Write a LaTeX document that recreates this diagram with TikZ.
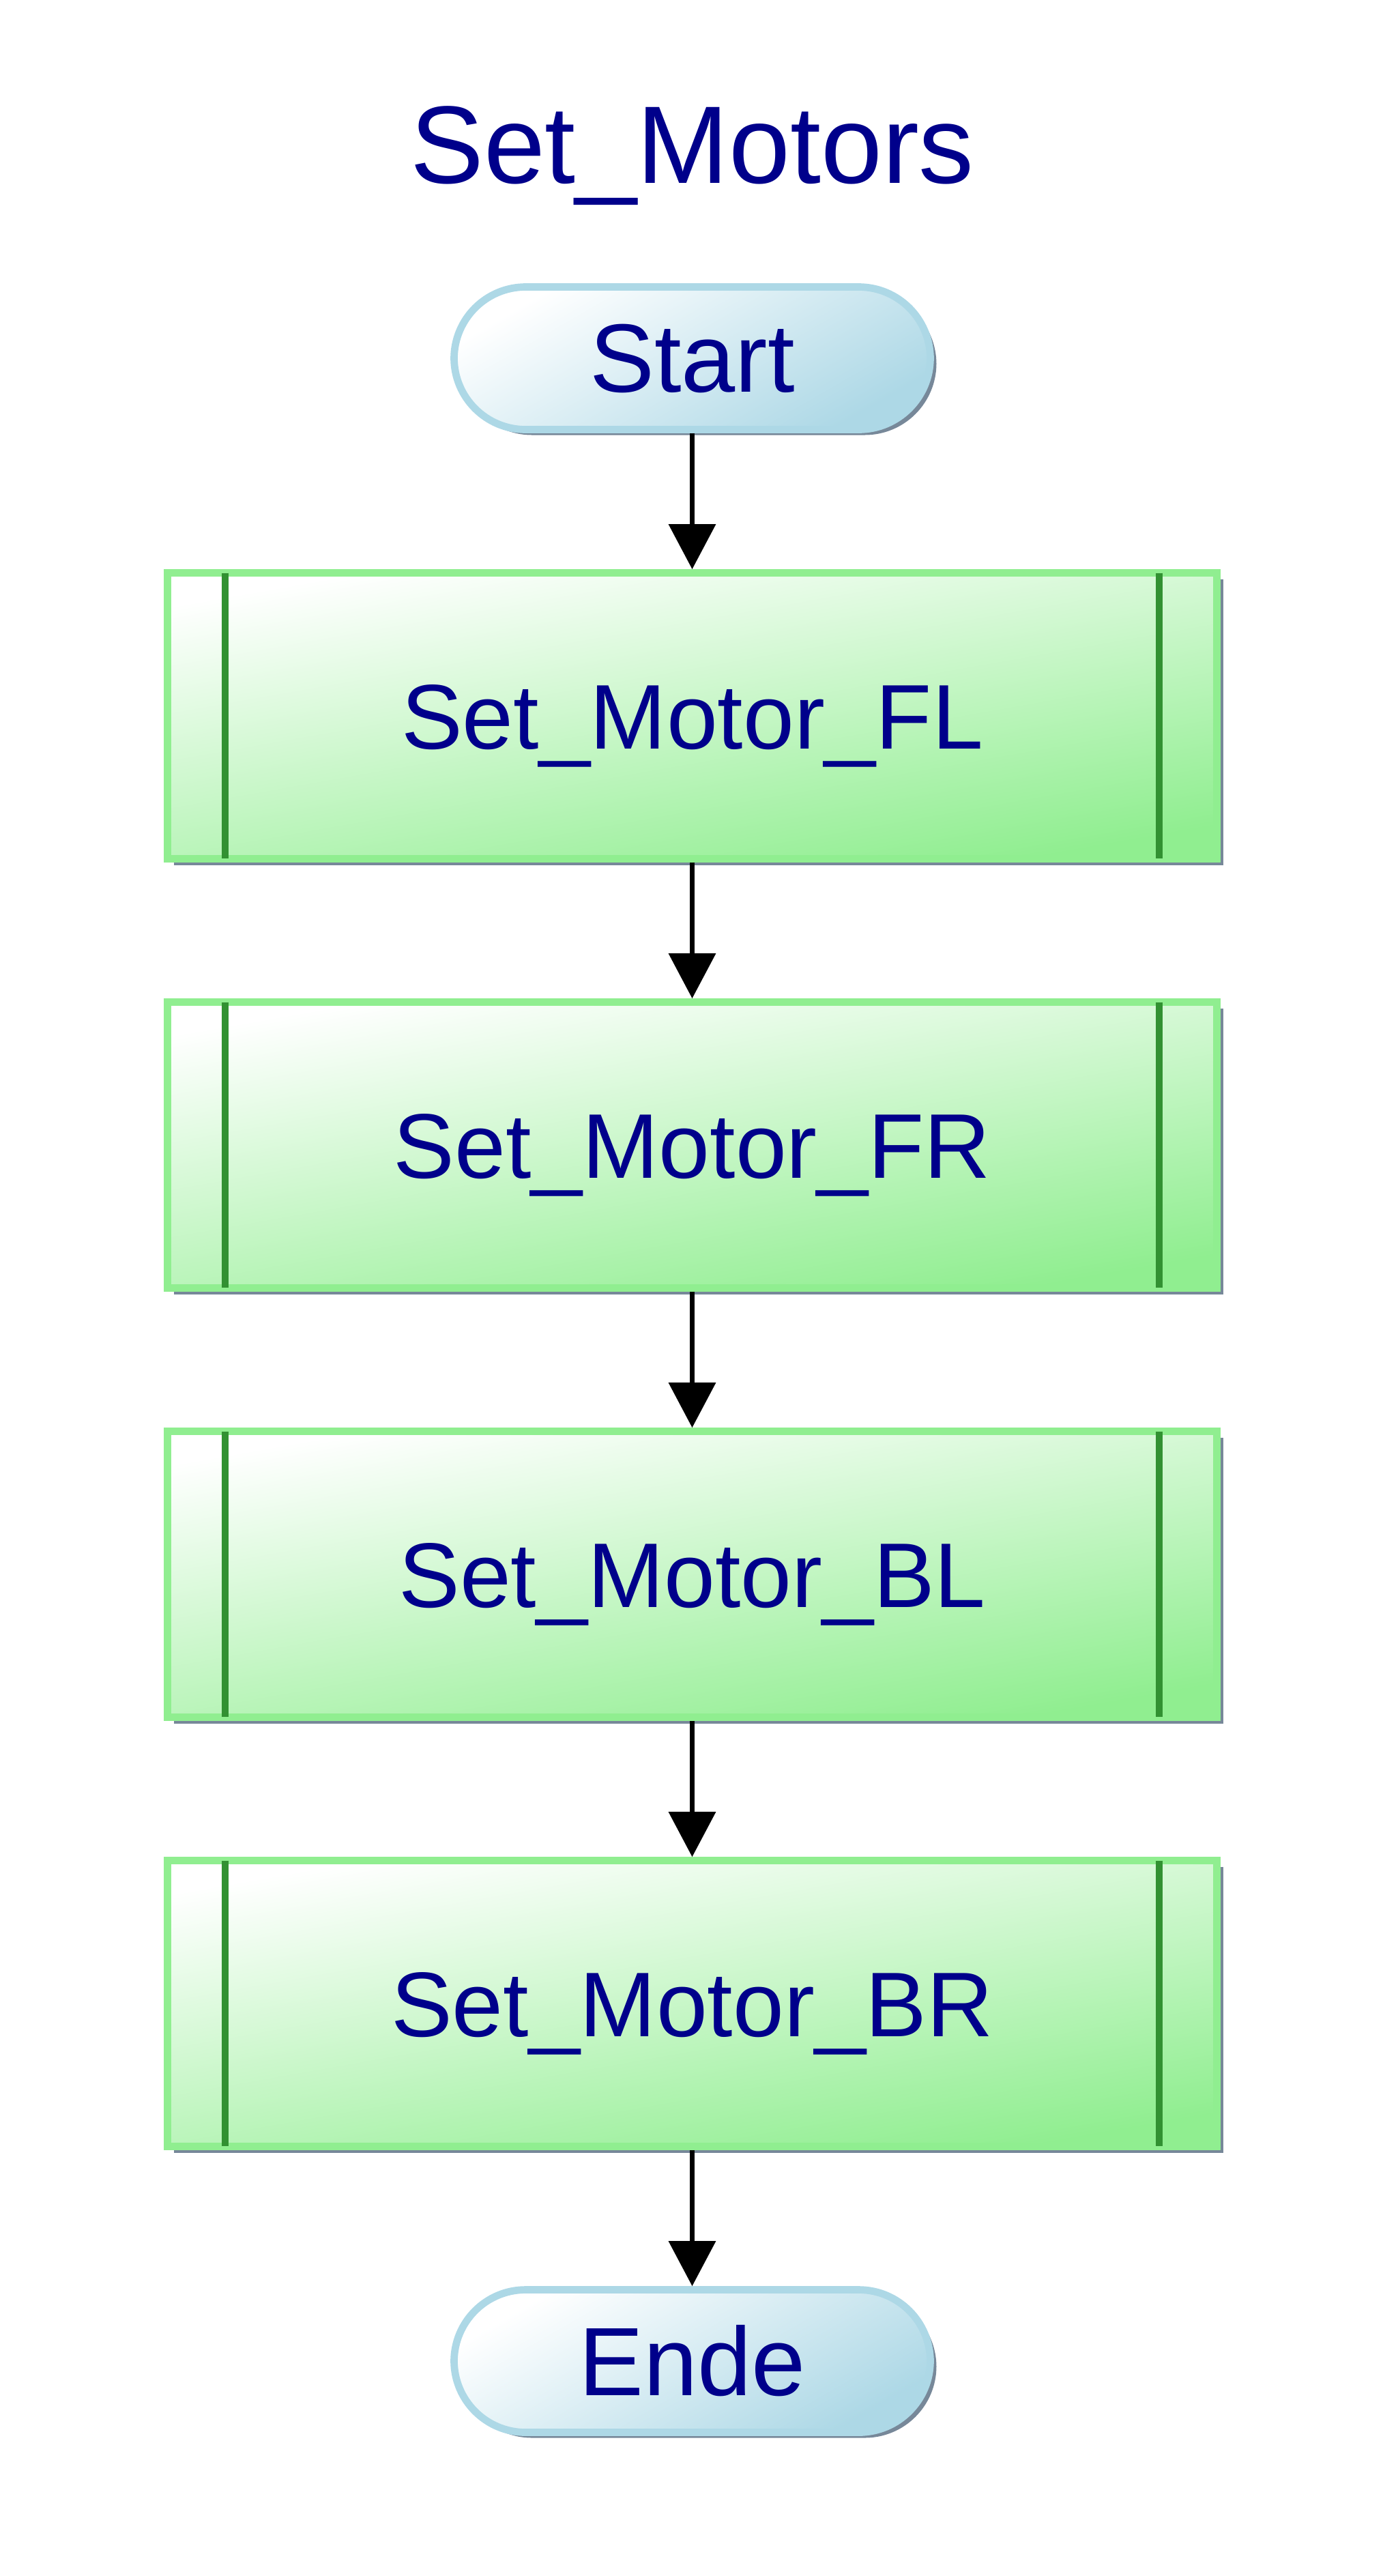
\documentclass[tikz,border=0pt]{standalone}
\usepackage{fontspec}
\setmainfont{Liberation Sans}
\usepackage{tikz}
\usetikzlibrary{positioning,shadows,arrows.meta}
\definecolor{textblue}{RGB}{0,0,139}
\definecolor{termblue}{RGB}{173,216,230}
\definecolor{procgreen}{RGB}{144,238,144}
\definecolor{bargreen}{RGB}{50,145,50}
\definecolor{shadowgray}{RGB}{119,136,153}

\begin{document}
\begin{tikzpicture}[-{Triangle[length=0.66cm,width=0.68cm]} ,line width=0.067cm ,node distance = 6.29cm ,on grid ,
  term/.style ={ rectangle ,rounded corners=1.05cm ,draw=termblue ,line width=0.107cm ,top color=white ,bottom color=termblue ,shading angle=30 ,minimum width=6.98cm ,minimum height=2.09cm ,text=textblue ,font=\fontsize{40.5}{48}\selectfont ,drop shadow={shadow xshift=0.09cm ,shadow yshift=-0.08cm ,opacity=1 ,fill=shadowgray}},
  proc/.style ={ rectangle ,draw=procgreen ,line width=0.107cm ,top color=white ,bottom color=procgreen ,shading angle=10 ,minimum width=15.38cm ,minimum height=4.19cm ,text=textblue ,text height=27.6pt ,text depth=0pt ,font=\fontsize{38.3}{46}\selectfont ,drop shadow={shadow xshift=0.09cm ,shadow yshift=-0.09cm ,opacity=1 ,fill=shadowgray}},
  bar/.style ={ - ,draw=bargreen ,line width=0.10cm}]
\useasboundingbox (0,0) rectangle (20.27,-37.75);
\node[text=textblue ,font=\fontsize{46}{55}\selectfont ,anchor=base] (title) at (10.145,-2.68) {Set\_Motors};
\node[term] (start) at (10.145,-5.25) {Start};
\node[proc] (fl) [below = 5.24cm of start] {Set\_Motor\_FL};
\node[proc] (fr) [below = of fl] {Set\_Motor\_FR};
\node[proc] (bl) [below = of fr] {Set\_Motor\_BL};
\node[proc] (br) [below = of bl] {Set\_Motor\_BR};
\node[term] (ende) [below = 5.24cm of br] {Ende};
\foreach \b in {fl,fr,bl,br} {
  \draw[bar] ([xshift=0.895cm,yshift=-0.054cm]\b.north west) -- ([xshift=0.895cm,yshift=0.054cm]\b.south west);
  \draw[bar] ([xshift=-0.895cm,yshift=-0.054cm]\b.north east) -- ([xshift=-0.895cm,yshift=0.054cm]\b.south east);
}
\path (start) edge (fl);
\path (fl) edge (fr);
\path (fr) edge (bl);
\path (bl) edge (br);
\path (br) edge (ende);
\end{tikzpicture}
\end{document}
